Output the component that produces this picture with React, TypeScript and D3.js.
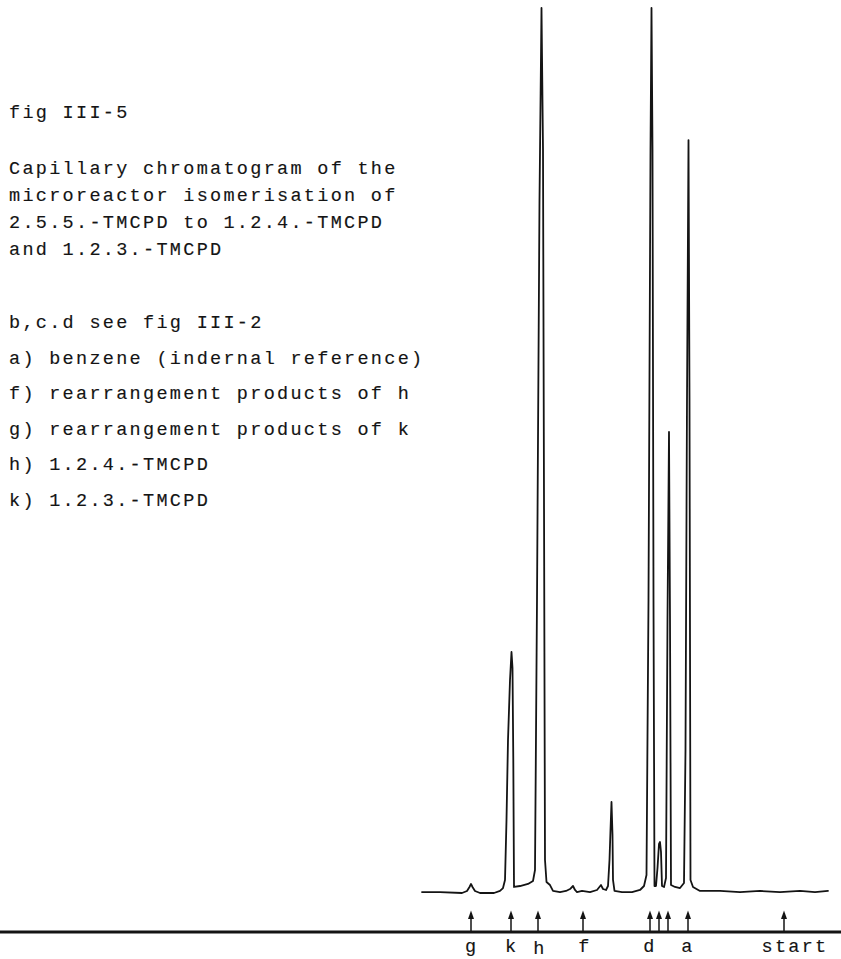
import React, { useEffect } from 'react';
import * as d3 from 'd3';

const WIDTH = 841;
const HEIGHT = 959;

// Recorder trace: retention (chart units, counted leftwards from injection)
// and detector signal (% of full scale).
const traceTime = [
  90.5, 86, 80.5, 79.25, 78.625, 78.25, 77.875, 77.25, 76, 72.5,
  71, 70.25, 69.75, 69.375, 69, 68.5, 68.125, 67.875, 67.675, 67.5,
  66, 64, 62.75, 62.25, 61.75, 61.125, 60.625, 60.25, 60, 59.75,
  59.375, 58.5, 57.75, 56, 54.5, 53.5, 52.75, 52.25, 51.75, 50.5,
  48.5, 46.75, 45.75, 45.25, 44.5, 44, 43.625, 43.375, 43.125, 42.875,
  42.75, 42.375, 40.5, 38, 36, 35, 34.375, 33.875, 33.375, 33.125,
  32.875, 32.625, 32.375, 32, 31.625, 31.25, 31, 30.75, 30.5, 30,
  29.5, 29.125, 28.75, 28.5, 28.25, 27.25, 26, 25, 24.625, 24.25,
  23.875, 23.625, 23.375, 22.75, 21, 16, 11, 6, 1, -4,
  -7.75, -11,
];
const traceSignal = [
  0.11, 0.11, 0, 0.23, 0.68, 1.02, 0.68, 0.23, 0, 0,
  0.23, 0.56, 1.47, 8.25, 17.29, 24.07, 27.23, 25.42, 15.03, 0.68,
  0.79, 1.02, 1.36, 2.6, 33.11, 78.31, 100, 83.95, 44.41, 3.73,
  1.24, 0.9, 0.23, 0.11, 0.23, 0.45, 0.79, 0.34, 0.11, 0.23,
  0.11, 0.34, 0.9, 0.45, 0.34, 0.79, 3.73, 7.12, 10.28, 6.55,
  1.47, 0.23, 0.11, 0.11, 0.34, 0.79, 2.03, 33.11, 83.95, 100,
  83.95, 33.11, 0.79, 0.79, 2.82, 5.54, 5.76, 4.63, 0.79, 0.68,
  1.69, 30.85, 52.09, 30.85, 0.9, 0.68, 0.56, 1.13, 16.16, 55.71,
  85.08, 55.71, 1.47, 0.68, 0.23, 0.23, 0.11, 0.23, 0.11, 0.23,
  0.11, 0.23,
];

// Peak markers below the trace and their letters
const arrowTimes = [78.25, 68.25, 61.5, 50.25, 33.5, 31.25, 29, 24, 0];
const labelTimes = [78.1, 68.1, 61, 49.75, 33.5, 24, -2.75];
const labelTexts = ['g', 'k', 'h', 'f', 'd', 'a', 'start'];
const labelShift = [0, 0, 2, 0, 0, 0, 0];

const titleLine = 'fig III-5';
const captionLines = [
  'Capillary chromatogram of the',
  'microreactor isomerisation of',
  '2.5.5.-TMCPD to 1.2.4.-TMCPD',
  'and 1.2.3.-TMCPD',
];
const legendLines = [
  'b,c.d see fig III-2',
  'a) benzene (indernal reference)',
  'f) rearrangement products of h',
  'g) rearrangement products of k',
  'h) 1.2.4.-TMCPD',
  'k) 1.2.3.-TMCPD',
];

const FONT = '"Liberation Mono", "DejaVu Sans Mono", monospace';
const INK = '#141414';

export default function App() {
  useEffect(() => {
    document.body.style.margin = '0';
  }, []);

  const x = d3.scaleLinear().domain([0, 90]).range([784, 424]);
  const y = d3.scaleLinear().domain([0, 100]).range([893, 8]);

  const points: [number, number][] = traceTime.map((t, i) => [t, traceSignal[i]]);
  const line = d3
    .line<[number, number]>()
    .x((d) => x(d[0]))
    .y((d) => y(d[1]));

  const axisY = 932;
  const textStyle = {
    fontFamily: FONT,
    fontSize: 18.5,
    letterSpacing: 2.3,
    fill: INK,
    stroke: INK,
    strokeWidth: 0.15,
  } as React.CSSProperties;

  const captionTop = 174;
  const captionStep = 27;
  const legendTop = 328;
  const legendStep = 35.5;

  return (
    <svg
      width={WIDTH}
      height={HEIGHT}
      viewBox={`0 0 ${WIDTH} ${HEIGHT}`}
      style={{ position: 'absolute', left: 0, top: 0, background: '#fff' }}
    >
      <rect width={WIDTH} height={HEIGHT} fill="#fff" />

      <text x={9} y={118} style={textStyle}>{titleLine}</text>
      {captionLines.map((s, i) => (
        <text key={'c' + i} x={9} y={captionTop + i * captionStep} style={textStyle}>
          {s}
        </text>
      ))}
      {legendLines.map((s, i) => (
        <text key={'l' + i} x={9} y={legendTop + i * legendStep} style={textStyle}>
          {s}
        </text>
      ))}

      <path
        d={line(points) || ''}
        fill="none"
        stroke={INK}
        strokeWidth={1.8}
        strokeLinejoin="round"
        strokeLinecap="round"
      />

      <line x1={0} x2={WIDTH} y1={axisY} y2={axisY} stroke={INK} strokeWidth={3} />

      {arrowTimes.map((t, i) => {
        const ax = x(t);
        return (
          <g key={'a' + i}>
            <line x1={ax} x2={ax} y1={917} y2={axisY} stroke={INK} strokeWidth={1.5} />
            <path d={`M${ax},910.5 L${ax - 3},919 L${ax + 3},919 Z`} fill={INK} />
          </g>
        );
      })}

      {labelTexts.map((s, i) => (
        <text
          key={'t' + i}
          x={x(labelTimes[i])}
          y={952 + labelShift[i]}
          textAnchor="middle"
          style={textStyle}
        >
          {s}
        </text>
      ))}
    </svg>
  );
}
